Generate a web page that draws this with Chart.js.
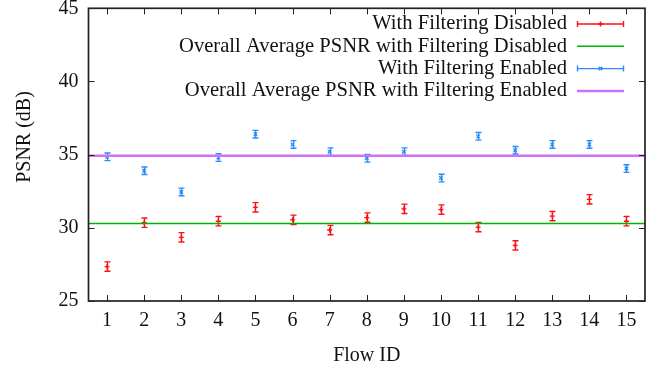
<!DOCTYPE html>
<html lang="en">
<head>
<meta charset="utf-8">
<title>PSNR per Flow</title>
<script src="https://cdn.jsdelivr.net/npm/chart.js@4.4.1/dist/chart.umd.min.js"></script>
<style>
  html, body { margin: 0; padding: 0; background: #ffffff; }
  #psnrChart { display: block; }
</style>
</head>
<body>
<canvas id="psnrChart" width="656" height="370"></canvas>
<script>
// --- 1. DATOS ---
const flowIds = [1, 2, 3, 4, 5, 6, 7, 8, 9, 10, 11, 12, 13, 14, 15];
const psnrDisabled = [27.35, 30.35, 29.35, 30.45, 31.4, 30.55, 29.85, 30.7, 31.3, 31.25, 30.05, 28.8, 30.8, 31.95, 30.45];
const errDisabled = [0.32, 0.32, 0.32, 0.32, 0.32, 0.32, 0.32, 0.32, 0.32, 0.32, 0.32, 0.32, 0.32, 0.32, 0.32];
const psnrEnabled = [34.85, 33.9, 32.45, 34.8, 36.4, 35.7, 35.2, 34.75, 35.2, 33.4, 36.25, 35.3, 35.7, 35.7, 34.05];
const errEnabled = [0.26, 0.26, 0.26, 0.26, 0.26, 0.26, 0.26, 0.26, 0.26, 0.26, 0.26, 0.26, 0.26, 0.26, 0.26];
const avgDisabled = 30.3;
const avgEnabled = 34.93;
const yTicks = [25, 30, 35, 40, 45];
const xLimits = [0.5, 15.5];
const yLimits = [25, 45];
const seriesLabels = [
    'With Filtering Disabled',
    'Overall Average PSNR with Filtering Disabled',
    'With Filtering Enabled',
    'Overall Average PSNR with Filtering Enabled'
];

const FONT = '"Liberation Serif", "Times New Roman", serif';
const TEXT = '#111111';
const colors = {
    red: '#ff1010',
    green: '#00b400',
    blue: '#2a8cf5',
    purple: '#cf72f5'
};

// --- 2. PLUGINS (estilo gnuplot) ---
const barrasError = {
    id: 'barrasError',
    afterDatasetDraw(chart, args) {
        const ds = chart.data.datasets[args.index];
        if (!ds.errores) return;
        const ctx = chart.ctx;
        const y = chart.scales.y;
        ctx.save();
        ctx.strokeStyle = ds.borderColor;
        ctx.lineWidth = 1.4;
        args.meta.data.forEach((pt, i) => {
            const v = ds.data[i].y;
            const e = ds.errores[i];
            const top = y.getPixelForValue(v + e);
            const bot = y.getPixelForValue(v - e);
            const px = Math.round(pt.x) + 0.5;
            ctx.beginPath();
            ctx.moveTo(px, top); ctx.lineTo(px, bot);
            ctx.moveTo(px - 3, top); ctx.lineTo(px + 3, top);
            ctx.moveTo(px - 3, bot); ctx.lineTo(px + 3, bot);
            ctx.stroke();
        });
        ctx.restore();
    }
};

const marco = {
    id: 'marco',
    afterDraw(chart) {
        const { ctx, chartArea: a, scales: { x, y } } = chart;
        ctx.save();
        ctx.strokeStyle = '#222222';
        ctx.lineWidth = 1;
        ctx.beginPath();
        x.ticks.forEach(t => {
            const px = Math.round(x.getPixelForValue(t.value)) + 0.5;
            ctx.moveTo(px, a.bottom); ctx.lineTo(px, a.bottom - 6);
            ctx.moveTo(px, a.top); ctx.lineTo(px, a.top + 6);
        });
        y.ticks.forEach(t => {
            const py = Math.round(y.getPixelForValue(t.value)) + 0.5;
            ctx.moveTo(a.left, py); ctx.lineTo(a.left + 6, py);
            ctx.moveTo(a.right, py); ctx.lineTo(a.right - 6, py);
        });
        ctx.stroke();
        ctx.lineWidth = 1.7;
        ctx.strokeRect(a.left, a.top, a.right - a.left, a.bottom - a.top);

        // título del eje Y (gnuplot no lo centra en el área)
        ctx.font = '20px ' + FONT;
        ctx.fillStyle = TEXT;
        ctx.textAlign = 'center';
        ctx.textBaseline = 'middle';
        ctx.translate(25, 137);
        ctx.rotate(-Math.PI / 2);
        ctx.fillText('PSNR (dB)', 0, 0);
        ctx.restore();
    }
};

const leyenda = {
    id: 'leyenda',
    afterDraw(chart) {
        const ctx = chart.ctx;
        ctx.save();
        ctx.font = '20.6px ' + FONT;
        ctx.textAlign = 'right';
        ctx.textBaseline = 'middle';
        chart.data.datasets.forEach((ds, i) => {
            const yy = 24 + i * 22.3;
            ctx.fillStyle = TEXT;
            ctx.fillText(ds.label, 567, yy);
            ctx.strokeStyle = ds.borderColor;
            ctx.lineWidth = ds.errores ? 1.4 : ds.borderWidth;
            ctx.beginPath();
            ctx.moveTo(577, yy); ctx.lineTo(624, yy);
            if (ds.errores) {
                ctx.moveTo(577.5, yy - 3); ctx.lineTo(577.5, yy + 3);
                ctx.moveTo(623.5, yy - 3); ctx.lineTo(623.5, yy + 3);
            }
            ctx.stroke();
            if (ds.errores) {
                Chart.helpers.drawPoint(ctx, {
                    pointStyle: ds.pointStyle, radius: ds.pointRadius, borderWidth: ds.borderWidth
                }, 600.5, yy);
            }
        });
        ctx.restore();
    }
};

// --- 3. GRÁFICO ---
const toPoints = vals => flowIds.map((f, i) => ({ x: f, y: vals[i] }));
const flatLine = v => xLimits.map(xv => ({ x: xv, y: v }));

new Chart(document.getElementById('psnrChart').getContext('2d'), {
    type: 'scatter',
    data: {
        datasets: [{
            label: seriesLabels[0],
            data: toPoints(psnrDisabled),
            errores: errDisabled,
            borderColor: colors.red,
            backgroundColor: colors.red,
            pointStyle: 'cross',
            pointRadius: 2.5,
            borderWidth: 1.3,
            order: 4
        }, {
            type: 'line',
            label: seriesLabels[1],
            data: flatLine(avgDisabled),
            borderColor: colors.green,
            borderWidth: 1.5,
            pointRadius: 0,
            order: 3
        }, {
            label: seriesLabels[2],
            data: toPoints(psnrEnabled),
            errores: errEnabled,
            borderColor: colors.blue,
            backgroundColor: colors.blue,
            pointStyle: 'crossRot',
            pointRadius: 2.5,
            borderWidth: 1.3,
            order: 2
        }, {
            type: 'line',
            label: seriesLabels[3],
            data: flatLine(avgEnabled),
            borderColor: colors.purple,
            borderWidth: 2.5,
            pointRadius: 0,
            order: 1
        }]
    },
    options: {
        responsive: false,
        animation: false,
        layout: { padding: { top: 8.3, right: 11, bottom: 0, left: 0 } },
        plugins: {
            legend: { display: false },
            tooltip: { enabled: false }
        },
        scales: {
            x: {
                type: 'linear',
                min: xLimits[0],
                max: xLimits[1],
                afterBuildTicks: s => { s.ticks = flowIds.map(v => ({ value: v })); },
                afterFit: s => { s.height = 69; s.paddingLeft = 0; s.paddingRight = 0; },
                grid: { display: false, drawTicks: false },
                border: { display: false },
                ticks: { autoSkip: false, maxRotation: 0, padding: 8, color: TEXT, font: { family: FONT, size: 20 } },
                title: { display: true, text: 'Flow ID', color: TEXT, font: { family: FONT, size: 20 }, padding: { top: 0, bottom: 2 } }
            },
            y: {
                min: yLimits[0],
                max: yLimits[1],
                afterBuildTicks: s => { s.ticks = yTicks.map(v => ({ value: v })); },
                afterFit: s => { s.width = 88.5; s.paddingTop = 0; s.paddingBottom = 0; },
                grid: { display: false, drawTicks: false },
                border: { display: false },
                ticks: { padding: 10, color: TEXT, font: { family: FONT, size: 20 } }
            }
        }
    },
    plugins: [barrasError, marco, leyenda]
});
</script>
</body>
</html>
